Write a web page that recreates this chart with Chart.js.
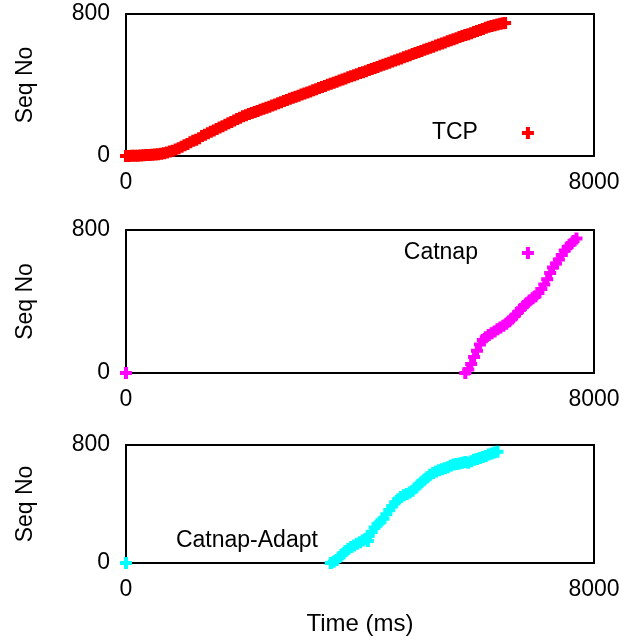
<!DOCTYPE html>
<html>
<head>
<meta charset="utf-8">
<script src="https://cdn.jsdelivr.net/npm/chart.js@4.4.1/dist/chart.umd.min.js"></script>
<style>
  body { margin: 0; background: #fff; }
  canvas { position: absolute; left: 0; }
</style>
</head>
<body>
<canvas id="tcpChart" width="641" height="200" style="top:0"></canvas>
<canvas id="catnapChart" width="641" height="200" style="top:216px"></canvas>
<canvas id="adaptChart" width="641" height="214" style="top:430px"></canvas>
<script>
// axis ticks
const xTicks = [0, 8000];
const yTicks = [0, 800];

// TCP: time (ms) / seq no
const tcpTime = [0, 50, 100, 150, 200, 250, 300, 350, 400, 450, 500, 550, 600, 650, 700, 750, 800, 850, 900, 950,
  1000, 1050, 1100, 1150, 1200, 1250, 1300, 1350, 1400, 1450, 1500, 1550, 1600, 1650, 1700, 1750, 1800, 1850, 1900, 1950,
  2000, 2050, 2100, 2150, 2200, 2250, 2300, 2350, 2400, 2450, 2500, 2550, 2600, 2650, 2700, 2750, 2800, 2850, 2900, 2950,
  3000, 3050, 3100, 3150, 3200, 3250, 3300, 3350, 3400, 3450, 3500, 3550, 3600, 3650, 3700, 3750, 3800, 3850, 3900, 3950,
  4000, 4050, 4100, 4150, 4200, 4250, 4300, 4350, 4400, 4450, 4500, 4550, 4600, 4650, 4700, 4750, 4800, 4850, 4900, 4950,
  5000, 5050, 5100, 5150, 5200, 5250, 5300, 5350, 5400, 5450, 5500, 5550, 5600, 5650, 5700, 5750, 5800, 5850, 5900, 5950,
  6000, 6050, 6100, 6150, 6200, 6250, 6300, 6350, 6400, 6450, 6480];
const tcpSeq = [0, 0, 1, 2, 2, 3, 4, 5, 6, 7, 8, 10, 13, 16, 20, 25, 30, 36, 44, 52,
  60, 68, 78, 86, 92, 100, 112, 120, 128, 136, 144, 152, 160, 168, 176, 184, 192, 200, 208, 216,
  224, 230, 236, 242, 248, 254, 260, 266, 272, 278, 284, 290, 297, 303, 310, 316, 322, 328, 334, 340,
  346, 352, 358, 364, 370, 376, 383, 389, 395, 401, 407, 413, 419, 425, 431, 437, 443, 449, 455, 461,
  467, 472, 478, 484, 490, 496, 502, 508, 514, 520, 526, 532, 538, 544, 550, 556, 562, 568, 574, 580,
  586, 592, 598, 604, 610, 616, 622, 628, 634, 640, 646, 652, 658, 664, 670, 676, 681, 686, 692, 698,
  704, 710, 716, 722, 728, 732, 737, 741, 745, 748, 750];

// Catnap
const catnapTime = [0, 5800, 5850, 5900, 5950, 6000, 6050, 6100, 6150, 6200, 6250, 6300, 6350, 6400, 6450, 6500, 6550, 6600,
  6650, 6700, 6750, 6800, 6850, 6900, 6950, 7000, 7050, 7100, 7150, 7200, 7250, 7300, 7350, 7400, 7450, 7500,
  7550, 7600, 7650, 7700];
const catnapSeq = [0, 0, 20, 50, 90, 125, 160, 185, 200, 212, 222, 232, 245, 255, 265, 275, 290, 305,
  322, 340, 358, 375, 390, 405, 418, 430, 448, 470, 495, 525, 560, 590, 612, 635, 660, 685,
  705, 720, 738, 752];

// Catnap-Adapt
const adaptTime = [0, 3500, 3550, 3600, 3650, 3700, 3750, 3800, 3850, 3900, 3950, 4000, 4050, 4100, 4150, 4200, 4250, 4300,
  4350, 4400, 4450, 4500, 4550, 4600, 4650, 4700, 4750, 4800, 4850, 4900, 4950, 5000, 5050, 5100, 5150, 5200,
  5250, 5300, 5350, 5400, 5450, 5500, 5550, 5600, 5650, 5700, 5750, 5800, 5850, 5900, 5950, 6000, 6050, 6100,
  6150, 6200, 6250, 6300, 6350];
const adaptSeq = [0, 0, 8, 20, 40, 60, 80, 95, 108, 118, 130, 140, 152, 165, 185, 210, 240, 262,
  280, 300, 330, 360, 385, 410, 430, 448, 460, 468, 478, 490, 510, 530, 548, 565, 582, 598,
  610, 620, 628, 635, 642, 650, 660, 668, 672, 675, 680, 685, 680, 690, 700, 705, 712, 718,
  725, 735, 742, 750, 755];

const FONT = "'Liberation Sans', Arial, sans-serif";

// black frame round the plot area
const framePlugin = {
  id: "frame",
  beforeDatasetsDraw(chart) {
    const { ctx, chartArea: a } = chart;
    ctx.save();
    ctx.strokeStyle = "#000";
    ctx.lineWidth = 2;
    ctx.strokeRect(a.left, a.top, a.right - a.left, a.bottom - a.top);
    ctx.restore();
  }
};

// gnuplot style key: text then a sample marker
const keyPlugin = {
  id: "seqKey",
  afterDatasetsDraw(chart, args, opts) {
    const { ctx, chartArea: a } = chart;
    const x = a.left + opts.x * (a.right - a.left);
    const y = a.top + opts.y * (a.bottom - a.top);
    ctx.save();
    ctx.font = "23px " + FONT;
    ctx.fillStyle = "#000";
    ctx.textAlign = "right";
    ctx.textBaseline = "middle";
    ctx.fillText(opts.text, x, y);
    const mx = x + 50;
    ctx.strokeStyle = opts.color;
    ctx.lineWidth = 4;
    ctx.beginPath();
    ctx.moveTo(mx - 6, y); ctx.lineTo(mx + 6, y);
    ctx.moveTo(mx, y - 6); ctx.lineTo(mx, y + 6);
    ctx.stroke();
    ctx.restore();
  }
};

function makePanel(id, times, seqs, color, key, padTop, xAxisHeight, showTime) {
  const points = times.map((t, i) => ({ x: t, y: seqs[i] }));
  return new Chart(document.getElementById(id), {
    type: "scatter",
    data: {
      datasets: [{
        label: key.text,
        data: points,
        pointStyle: "cross",
        pointRadius: 6,
        pointBorderWidth: 4,
        borderColor: color,
        backgroundColor: color,
        clip: false
      }]
    },
    options: {
      responsive: false,
      animation: false,
      events: [],
      layout: { padding: { top: padTop, right: 47, left: 0, bottom: 0 } },
      plugins: {
        legend: { display: false },
        tooltip: { enabled: false },
        seqKey: Object.assign({ color }, key)
      },
      scales: {
        x: {
          type: "linear",
          min: 0,
          max: 8000,
          afterBuildTicks: (s) => { s.ticks = xTicks.map((v) => ({ value: v })); },
          afterFit: (s) => { s.height = xAxisHeight; s.paddingLeft = 0; s.paddingRight = 0; },
          grid: { display: false, drawTicks: false },
          border: { display: false },
          ticks: {
            color: "#000",
            font: { family: FONT, size: 23 },
            padding: 13,
            maxRotation: 0,
            callback: (v) => String(v)
          },
          title: {
            display: showTime,
            text: "Time (ms)",
            color: "#000",
            font: { family: FONT, size: 24 },
            padding: { top: 0, bottom: 5 }
          }
        },
        y: {
          type: "linear",
          min: 0,
          max: 800,
          afterBuildTicks: (s) => { s.ticks = yTicks.map((v) => ({ value: v })); },
          // keep the label overhang from pushing the plot area down
          afterFit: (s) => { s.width = 126; s.paddingTop = 0; s.paddingBottom = 0; },
          grid: { display: false, drawTicks: false },
          border: { display: false },
          ticks: { color: "#000", font: { family: FONT, size: 23 }, padding: 16, callback: (v) => String(v) },
          title: {
            display: true,
            text: "Seq No",
            color: "#000",
            font: { family: FONT, size: 23 },
            padding: { top: 12, bottom: 0 }
          }
        }
      }
    },
    plugins: [framePlugin, keyPlugin]
  });
}

makePanel("tcpChart", tcpTime, tcpSeq, "#ff0000", { text: "TCP", x: 0.752, y: 0.838 }, 14, 44, false);
makePanel("catnapChart", catnapTime, catnapSeq, "#ff00ff", { text: "Catnap", x: 0.752, y: 0.161 }, 14, 43, false);
makePanel("adaptChart", adaptTime, adaptSeq, "#00ffff", { text: "Catnap-Adapt", x: 0.41, y: 0.814 }, 15, 81, true);
</script>
</body>
</html>
